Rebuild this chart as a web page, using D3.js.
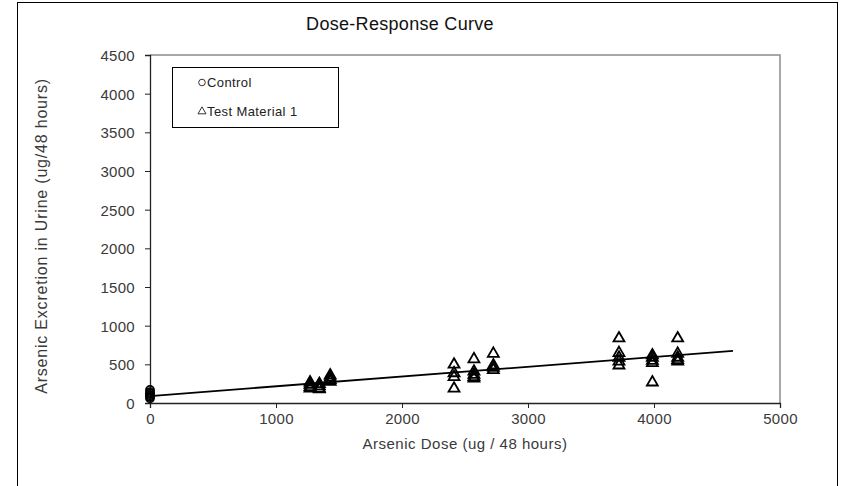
<!DOCTYPE html>
<html><head><meta charset="utf-8">
<script src="https://cdn.jsdelivr.net/npm/d3@7"></script>
<style>body{margin:0;background:#fff}svg{display:block}text{font-family:"Liberation Sans",Arial,sans-serif}</style>
</head><body><svg id="c" width="841" height="486"></svg>
<script>
const xTicks = [0,1000,2000,3000,4000,5000];
const yTicks = [0,500,1000,1500,2000,2500,3000,3500,4000,4500];
const controlDose = [0,0,0,0,0,0];
const controlResp = [170,140,120,100,80,60];
const testDose = [1270,1270,1270,1270,1344,1344,1344,1344,1430,1430,1430,1430,
  2413,2413,2413,2413,2571,2571,2571,2571,2571,2725,2725,2725,2725,
  3722,3722,3722,3722,3722,3987,3987,3987,3987,3987,4188,4188,4188,4188,4188];
const testResp = [280,250,220,200,260,230,200,190,370,340,310,290,
  510,400,350,200,580,420,380,350,330,650,500,470,440,
  850,660,600,550,500,630,600,560,530,280,850,650,600,570,550];
const fitDose = [0,4627];
const fitResp = [90,673];
const seriesNames = ["Control","Test Material 1"];

const svg = d3.select("#c");
const x = d3.scaleLinear().domain([0,5000]).range([150,780]);
const y = d3.scaleLinear().domain([0,4500]).range([403,55]);
const ink = "#000", txt = "#3a3a3a";

svg.append("rect").attr("x",17.5).attr("y",2.5).attr("width",820).attr("height",520)
  .attr("fill","none").attr("stroke","#000").attr("stroke-width",1);

// plot frame (top/right gray)
svg.append("path").attr("d",`M${x(0)},${y(4500)}H${x(5000)}V${y(0)}`)
  .attr("fill","none").attr("stroke","#8c8c8c").attr("stroke-width",1.5);

const xa = svg.append("g").attr("transform",`translate(0,${y(0)})`)
  .call(d3.axisBottom(x).tickValues(xTicks).tickSize(5).tickPadding(5).tickFormat(d3.format("d")));
const ya = svg.append("g").attr("transform",`translate(${x(0)},0)`)
  .call(d3.axisLeft(y).tickValues(yTicks).tickSize(5).tickPadding(10).tickFormat(d3.format("d")));
[xa,ya].forEach(a=>{
  a.select(".domain").attr("stroke","#222").attr("stroke-width",1.3);
  a.selectAll(".tick line").attr("stroke","#222");
  a.selectAll("text").attr("font-size",15).attr("letter-spacing",0.3).attr("fill",txt)
   .attr("font-family","Liberation Sans, Arial, sans-serif");
});
ya.selectAll("text").attr("dy","0.36em");

// fit line
svg.append("line").attr("x1",x(fitDose[0])).attr("y1",y(fitResp[0]))
  .attr("x2",x(fitDose[1])).attr("y2",y(fitResp[1]))
  .attr("stroke","#000").attr("stroke-width",1.8);

const tri = d3.symbol().type(d3.symbolTriangle).size(52);
svg.append("g").selectAll("path").data(testDose.map((d,i)=>[d,testResp[i]])).join("path")
  .attr("d",tri).attr("transform",d=>`translate(${x(d[0])},${y(d[1])+1})`)
  .attr("fill","none").attr("stroke",ink).attr("stroke-width",1.8);

svg.append("g").selectAll("ellipse").data(controlDose.map((d,i)=>[d,controlResp[i]])).join("ellipse")
  .attr("cx",d=>x(d[0])).attr("cy",d=>y(d[1])).attr("rx",4).attr("ry",4)
  .attr("fill","none").attr("stroke",ink).attr("stroke-width",1.8);

// title & labels
svg.append("text").attr("x",400).attr("y",30).attr("text-anchor","middle")
  .attr("font-size",18).attr("letter-spacing",0.3).attr("fill","#111")
  .text("Dose-Response Curve");
svg.append("text").attr("x",465).attr("y",449).attr("text-anchor","middle")
  .attr("font-size",15).attr("letter-spacing",0.5).attr("fill",txt)
  .text("Arsenic Dose (ug / 48 hours)");
svg.append("text").attr("transform","translate(47,236) rotate(-90)").attr("text-anchor","middle")
  .attr("font-size",16).attr("letter-spacing",0.8).attr("fill",txt)
  .text("Arsenic Excretion in Urine (ug/48 hours)");

// legend
const lg = svg.append("g");
lg.append("rect").attr("x",172.5).attr("y",67.5).attr("width",166).attr("height",60)
  .attr("fill","#fff").attr("stroke","#000").attr("stroke-width",1);
lg.append("circle").attr("cx",202).attr("cy",82.5).attr("r",3.3).attr("fill","none").attr("stroke","#333").attr("stroke-width",1);
lg.append("path").attr("d",d3.symbol().type(d3.symbolTriangle).size(28)).attr("transform","translate(202,111.5)")
  .attr("fill","none").attr("stroke","#333").attr("stroke-width",1);
lg.append("text").attr("x",207).attr("y",87).attr("font-size",13).attr("letter-spacing",0.4).attr("fill","#222")
  .text(seriesNames[0]);
lg.append("text").attr("x",207).attr("y",116).attr("font-size",13).attr("letter-spacing",0.4).attr("fill","#222")
  .text(seriesNames[1]);
</script></body></html>
